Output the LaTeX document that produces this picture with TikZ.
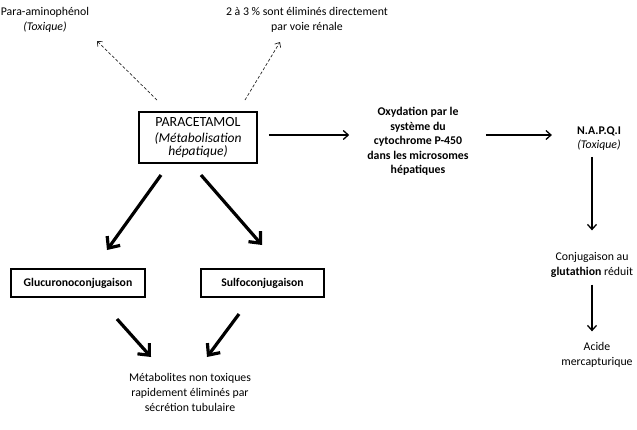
\documentclass[tikz,border=0pt]{standalone}
\usepackage{fontspec}
\setmainfont{Carlito}
\usetikzlibrary{arrows.meta}

\begin{document}
\begin{tikzpicture}[x=1pt, y=-1pt,
    txt/.style={align=center, inner sep=0pt, font=\fontsize{11.8}{14.8}\selectfont},
    boite/.style={draw, line width=1.4pt, minimum height=28pt, inner sep=0pt,
        font=\fontsize{11.7}{13}\selectfont\bfseries},
    fleche/.style={-{Straight Barb[length=5pt,width=9pt]}, line width=1.3pt},
    pointille/.style={-{Straight Barb[length=4pt,width=7pt]}, dashed,
        dash pattern=on 3pt off 2pt, line width=0.7pt, black!85},
    grosse/.style={-{Straight Barb[length=9pt,width=16pt]}, line width=3.2pt}]

    \useasboundingbox (0,0) rectangle (637,429);

    % coordonnees des fleches obliques
    \coordinate (d1) at (157,100);
    \coordinate (d2) at (97,41);
    \coordinate (d3) at (245,100);
    \coordinate (d4) at (280,42);

    \coordinate (g1) at (161,175);
    \coordinate (g2) at (107,250);
    \coordinate (s1) at (201,175);
    \coordinate (s2) at (262,245);

    \coordinate (m1) at (117,319);
    \coordinate (m2) at (151,357);
    \coordinate (m3) at (239,314);
    \coordinate (m4) at (207,357);

    % textes du haut
    \node[txt] (amino) at (45,19.5) {Para-aminophénol\\\textit{(Toxique)}};
    \node[txt] (renale) at (307,19.5) {2 à 3 \% sont éliminés directement\\par voie rénale};

    % paracetamol
    \node[draw, line width=1.8pt, minimum width=118pt, minimum height=51pt,
        align=center, inner sep=0pt, font=\fontsize{13.5}{13.5}\selectfont] (para) at (198,137.5)
        {{\fontsize{14}{15}\selectfont PARACETAMOL}\\[2.5pt]\textit{(Métabolisation}\\\textit{hépatique)}};

    % voie oxydative
    \node[txt, font=\fontsize{11.8}{14.5}\selectfont\bfseries] (oxy) at (418,141.5)
        {Oxydation par le\\système du\\cytochrome P-450\\dans les microsomes\\hépatiques};
    \node[txt] (napqi) at (599,138.5) {\textbf{N.A.P.Q.I}\\\textit{(Toxique)}};
    \node[txt] (gluta) at (592,265) {Conjugaison au\\\textbf{glutathion} réduit};
    \node[txt] (acide) at (597,355) {Acide\\mercapturique};

    % conjugaisons
    \node[boite, minimum width=134pt] (glucuro) at (78,283) {Glucuronoconjugaison};
    \node[boite, minimum width=123pt] (sulfo) at (262.5,283) {Sulfoconjugaison};
    \node[txt] (metab) at (190,392.5) {Métabolites non toxiques\\rapidement éliminés par\\sécrétion tubulaire};

    % fleches pointillees
    \draw[pointille] (d1) -- (d2);
    \draw[pointille] (d3) -- (d4);

    % fleches fines
    \draw[fleche, shorten <=11pt, shorten >=18pt]
        ([yshift=2.5pt]para.east) -- ([yshift=2.5pt]para.east -| oxy.west);
    \draw[fleche, shorten <=17pt, shorten >=25pt]
        ([yshift=6.5pt]oxy.east) -- ([yshift=6.5pt]oxy.east -| napqi.west);
    \draw[fleche, shorten <=6pt, shorten >=22pt] (napqi.south -| gluta.north) -- (gluta.north);
    \draw[fleche, shorten <=7pt, shorten >=11pt] (gluta.south) -- (gluta.south |- acide.north);

    % grosses fleches
    \draw[grosse] (g1) -- (g2);
    \draw[grosse] (s1) -- (s2);
    \draw[grosse] (m1) -- (m2);
    \draw[grosse] (m3) -- (m4);

\end{tikzpicture}
\end{document}
